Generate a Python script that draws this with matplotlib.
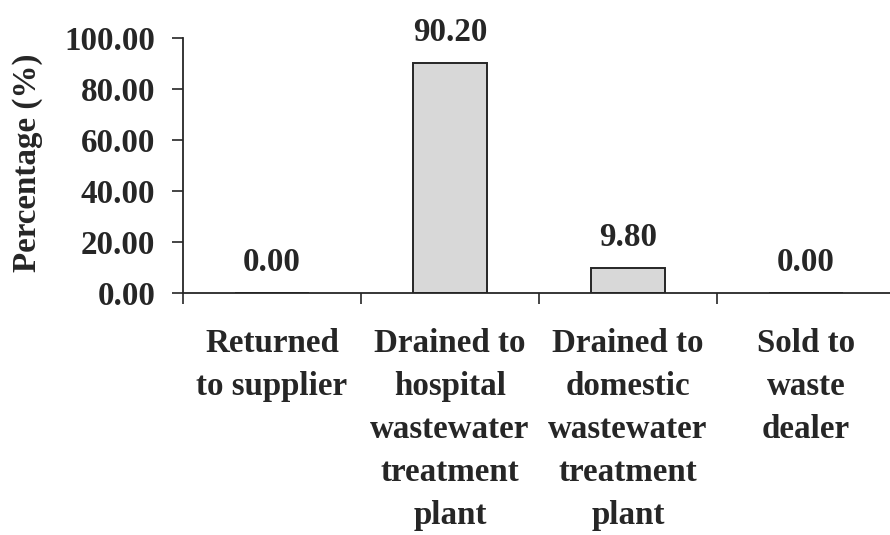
import matplotlib
matplotlib.use('Agg')
import matplotlib.pyplot as plt
import numpy as np

# disposal route of the waste, share of respondents
categories = ['Returned\nto supplier',
              'Drained to\nhospital\nwastewater\ntreatment\nplant',
              'Drained to\ndomestic\nwastewater\ntreatment\nplant',
              'Sold to\nwaste\ndealer']
percentages = [0.00, 90.20, 9.80, 0.00]
ytick_values = [0, 20, 40, 60, 80, 100]

ink = '#262626'
fs = 23.8
plt.rcParams['font.family'] = ['Liberation Serif', 'DejaVu Serif']
plt.rcParams['font.weight'] = 'bold'
plt.rcParams['font.size'] = fs

fig = plt.figure(figsize=(8.9, 5.35), dpi=100)
ax = fig.add_axes([183 / 890, 242 / 535, 712 / 890, 255 / 535])

x = np.arange(len(categories))
ax.bar(x, percentages, width=0.415, color='#d8d8d8', edgecolor=ink, linewidth=1.4, zorder=2)

for xi, v in zip(x, percentages):
    ax.annotate('%.2f' % v, (xi, v), xytext=(0, 15.5), textcoords='offset points',
                ha='center', va='baseline', color=ink, fontsize=fs, fontweight='bold')

ax.set_xlim(-0.5, len(categories) - 0.5)
ax.set_ylim(0, 100)

# tick marks between the groups, labels under each group
ax.set_xticks(np.arange(len(categories) + 1) - 0.5)
ax.set_xticklabels([])
ax.set_xticks(x, minor=True)
ax.set_xticklabels(categories, minor=True, linespacing=1.5, color=ink, fontsize=fs)
ax.tick_params(axis='x', which='major', length=8, width=1.2, color=ink, direction='out')
ax.tick_params(axis='x', which='minor', length=0, pad=25)

ax.set_yticks(ytick_values)
ax.set_yticklabels(['%.2f' % t for t in ytick_values], color=ink)
ax.tick_params(axis='y', length=8, width=1.2, color=ink, pad=12)

for side in ['top', 'right']:
    ax.spines[side].set_visible(False)
for side in ['left', 'bottom']:
    ax.spines[side].set_color(ink)
    ax.spines[side].set_linewidth(1.3)

fig.text(28 / 890, 1 - 163 / 535, 'Percentage (%)', rotation=90, ha='center', va='center',
         color=ink, fontsize=fs, fontweight='bold')

fig.savefig('out.png', dpi=100)
